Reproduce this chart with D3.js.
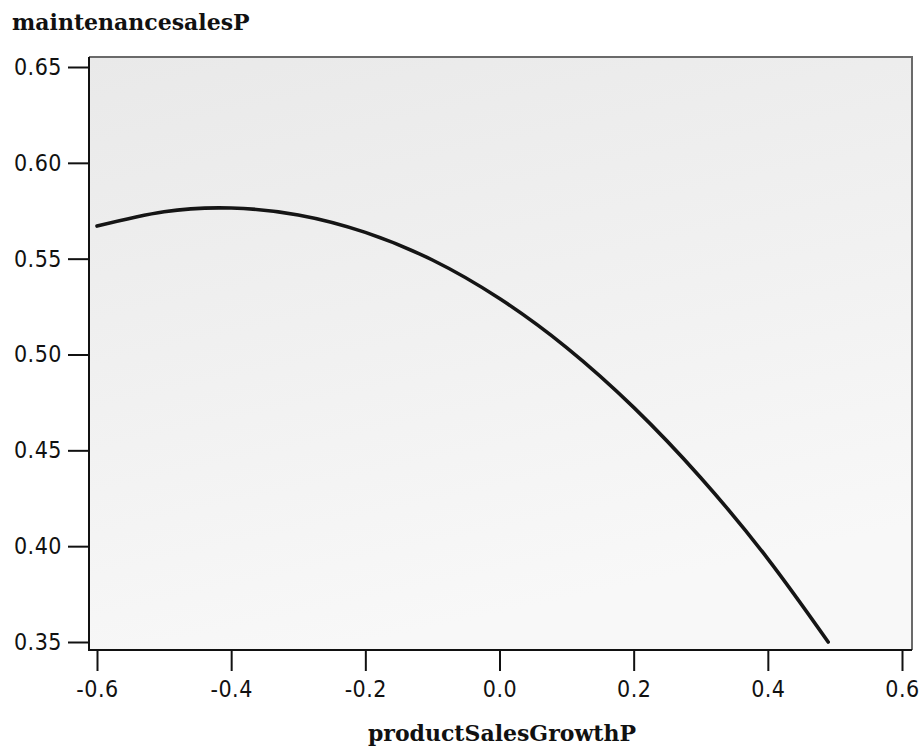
<!DOCTYPE html>
<html>
<head>
<meta charset="utf-8">
<script src="https://cdn.jsdelivr.net/npm/d3@7"></script>
<style>
  body { margin: 0; background: #fff; }
  svg { display: block; }
  .tick-label { font-family: "DejaVu Sans Condensed", "DejaVu Sans", sans-serif; font-stretch: condensed; font-size: 23px; letter-spacing: 0.5px; fill: #111; }
  .title { font-family: "DejaVu Serif", "Liberation Serif", serif; font-weight: bold; font-size: 22px; fill: #111; }
</style>
</head>
<body>
<div id="chart"></div>
<script>
// values
const growth = [-0.6, -0.5, -0.4, -0.3, -0.2, -0.1, 0.0, 0.1, 0.2, 0.3, 0.4, 0.49];
const maintSales = [0.567, 0.5745, 0.5764, 0.5728, 0.5637, 0.5493, 0.5292, 0.5036, 0.4724, 0.4357, 0.3934, 0.350];
const xTicks = [-0.6, -0.4, -0.2, 0.0, 0.2, 0.4, 0.6];
const yTicks = [0.35, 0.40, 0.45, 0.50, 0.55, 0.60, 0.65];

const W = 923, H = 748;
const box = { left: 89, right: 912, top: 57, bottom: 650 };

const svg = d3.select('#chart').append('svg')
  .attr('width', W)
  .attr('height', H);

const x = d3.scaleLinear().domain([-0.6, 0.6]).range([97, 902]);
const y = d3.scaleLinear().domain([0.35, 0.65]).range([642, 67]);

// plot background, slightly grey at the top like the scan
const grad = svg.append('defs').append('linearGradient')
  .attr('id', 'bg')
  .attr('x1', 0).attr('y1', 0).attr('x2', 0.3).attr('y2', 1);
grad.append('stop').attr('offset', '0%').attr('stop-color', '#e9e9e9');
grad.append('stop').attr('offset', '55%').attr('stop-color', '#f1f1f1');
grad.append('stop').attr('offset', '100%').attr('stop-color', '#f8f8f8');

svg.append('rect')
  .attr('x', box.left).attr('y', box.top)
  .attr('width', box.right - box.left)
  .attr('height', box.bottom - box.top)
  .attr('fill', 'url(#bg)');

// top and right frame edges are grey
svg.append('path')
  .attr('d', `M${box.left},${box.top}H${box.right}V${box.bottom}`)
  .attr('fill', 'none')
  .attr('stroke', '#6a6a6a')
  .attr('stroke-width', 2);

// axes (plain hyphen for negatives, like the original)
const fmtX = d => d3.format('.1f')(d).replace('\u2212', '-');
const yAxis = d3.axisLeft(y).tickValues(yTicks).tickSize(21).tickPadding(6).tickFormat(d3.format('.2f'));
const xAxis = d3.axisBottom(x).tickValues(xTicks).tickSize(21).tickPadding(10).tickFormat(fmtX);

const gy = svg.append('g')
  .attr('transform', `translate(${box.left},0)`)
  .call(yAxis);

const gx = svg.append('g')
  .attr('transform', `translate(0,${box.bottom})`)
  .call(xAxis);

[gx, gy].forEach(g => {
  g.select('.domain').remove();
  g.selectAll('.tick line').attr('stroke', '#111').attr('stroke-width', 2);
  g.selectAll('.tick text').attr('class', 'tick-label').attr('fill', null);
});

// dark left and bottom frame lines
svg.append('path')
  .attr('d', `M${box.left},${box.top}V${box.bottom}H${box.right}`)
  .attr('fill', 'none')
  .attr('stroke', '#111')
  .attr('stroke-width', 2);

// fitted curve
const line = d3.line()
  .x((d, i) => x(growth[i]))
  .y(d => y(d))
  .curve(d3.curveNatural);

svg.append('path')
  .datum(maintSales)
  .attr('fill', 'none')
  .attr('stroke', '#151515')
  .attr('stroke-width', 3.6)
  .attr('stroke-linecap', 'round')
  .attr('d', line);

// titles
svg.append('text')
  .attr('class', 'title')
  .attr('x', 12)
  .attr('y', 30)
  .text('maintenancesalesP');

svg.append('text')
  .attr('class', 'title')
  .attr('x', 502)
  .attr('y', 741)
  .attr('text-anchor', 'middle')
  .text('productSalesGrowthP');
</script>
</body>
</html>
